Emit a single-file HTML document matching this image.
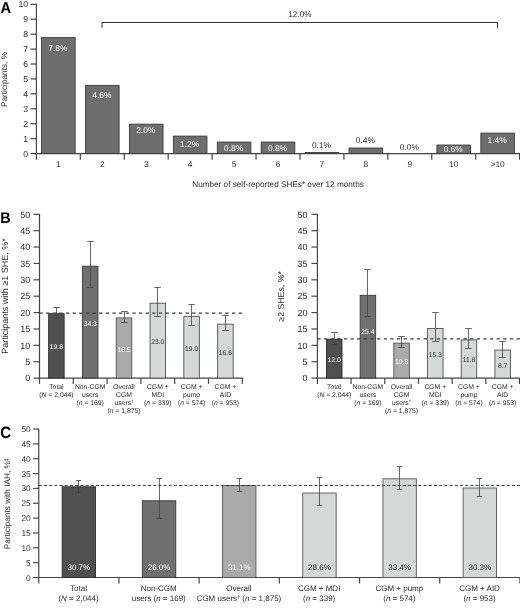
<!DOCTYPE html>
<html><head><meta charset="utf-8"><title>Figure</title>
<style>
html,body{margin:0;padding:0;background:#fff;}
body{width:520px;height:612px;overflow:hidden;}
svg{display:block;font-family:"Liberation Sans",sans-serif;will-change:transform;}
svg text{text-rendering:geometricPrecision;}
</style></head><body>
<svg width="520" height="612" viewBox="0 0 520 612">
<rect width="520" height="612" fill="#fff"/>
<text x="0.6" y="13.0" font-size="15.6" text-anchor="start" fill="#000" font-weight="bold" textLength="10.6" lengthAdjust="spacingAndGlyphs" stroke="#000" stroke-width="0.1">A</text>
<line x1="36.4" y1="3.6999999999999997" x2="36.4" y2="154.15" stroke="#464646" stroke-width="1.2"/>
<line x1="30.5" y1="153.55" x2="36.4" y2="153.55" stroke="#464646" stroke-width="1.2"/>
<text x="28.099999999999998" y="156.65" font-size="8.7" text-anchor="end" fill="#2b2b2b">0</text>
<line x1="30.5" y1="138.63000000000002" x2="36.4" y2="138.63000000000002" stroke="#464646" stroke-width="1.2"/>
<text x="28.099999999999998" y="141.73000000000002" font-size="8.7" text-anchor="end" fill="#2b2b2b">1</text>
<line x1="30.5" y1="123.71000000000001" x2="36.4" y2="123.71000000000001" stroke="#464646" stroke-width="1.2"/>
<text x="28.099999999999998" y="126.81" font-size="8.7" text-anchor="end" fill="#2b2b2b">2</text>
<line x1="30.5" y1="108.79000000000002" x2="36.4" y2="108.79000000000002" stroke="#464646" stroke-width="1.2"/>
<text x="28.099999999999998" y="111.89000000000001" font-size="8.7" text-anchor="end" fill="#2b2b2b">3</text>
<line x1="30.5" y1="93.87" x2="36.4" y2="93.87" stroke="#464646" stroke-width="1.2"/>
<text x="28.099999999999998" y="96.97" font-size="8.7" text-anchor="end" fill="#2b2b2b">4</text>
<line x1="30.5" y1="78.95000000000002" x2="36.4" y2="78.95000000000002" stroke="#464646" stroke-width="1.2"/>
<text x="28.099999999999998" y="82.05000000000001" font-size="8.7" text-anchor="end" fill="#2b2b2b">5</text>
<line x1="30.5" y1="64.03000000000002" x2="36.4" y2="64.03000000000002" stroke="#464646" stroke-width="1.2"/>
<text x="28.099999999999998" y="67.13000000000001" font-size="8.7" text-anchor="end" fill="#2b2b2b">6</text>
<line x1="30.5" y1="49.110000000000014" x2="36.4" y2="49.110000000000014" stroke="#464646" stroke-width="1.2"/>
<text x="28.099999999999998" y="52.210000000000015" font-size="8.7" text-anchor="end" fill="#2b2b2b">7</text>
<line x1="30.5" y1="34.19000000000001" x2="36.4" y2="34.19000000000001" stroke="#464646" stroke-width="1.2"/>
<text x="28.099999999999998" y="37.29000000000001" font-size="8.7" text-anchor="end" fill="#2b2b2b">8</text>
<line x1="30.5" y1="19.27000000000001" x2="36.4" y2="19.27000000000001" stroke="#464646" stroke-width="1.2"/>
<text x="28.099999999999998" y="22.37000000000001" font-size="8.7" text-anchor="end" fill="#2b2b2b">9</text>
<line x1="30.5" y1="4.350000000000023" x2="36.4" y2="4.350000000000023" stroke="#464646" stroke-width="1.2"/>
<text x="28.099999999999998" y="7.450000000000022" font-size="8.7" text-anchor="end" fill="#2b2b2b">10</text>
<text x="6.9" y="79.5" font-size="8.25" text-anchor="middle" fill="#2b2b2b" transform="rotate(-90 6.9 79.5)">Participants, %</text>
<line x1="35.8" y1="153.55" x2="520" y2="153.55" stroke="#464646" stroke-width="1.2"/>
<line x1="36.4" y1="153.55" x2="36.4" y2="159.75" stroke="#464646" stroke-width="1.2"/>
<line x1="80.33" y1="153.55" x2="80.33" y2="159.75" stroke="#464646" stroke-width="1.2"/>
<line x1="124.25999999999999" y1="153.55" x2="124.25999999999999" y2="159.75" stroke="#464646" stroke-width="1.2"/>
<line x1="168.19" y1="153.55" x2="168.19" y2="159.75" stroke="#464646" stroke-width="1.2"/>
<line x1="212.12" y1="153.55" x2="212.12" y2="159.75" stroke="#464646" stroke-width="1.2"/>
<line x1="256.05" y1="153.55" x2="256.05" y2="159.75" stroke="#464646" stroke-width="1.2"/>
<line x1="299.97999999999996" y1="153.55" x2="299.97999999999996" y2="159.75" stroke="#464646" stroke-width="1.2"/>
<line x1="343.90999999999997" y1="153.55" x2="343.90999999999997" y2="159.75" stroke="#464646" stroke-width="1.2"/>
<line x1="387.84" y1="153.55" x2="387.84" y2="159.75" stroke="#464646" stroke-width="1.2"/>
<line x1="431.77" y1="153.55" x2="431.77" y2="159.75" stroke="#464646" stroke-width="1.2"/>
<line x1="475.7" y1="153.55" x2="475.7" y2="159.75" stroke="#464646" stroke-width="1.2"/>
<line x1="519.63" y1="153.55" x2="519.63" y2="159.75" stroke="#464646" stroke-width="1.2"/>
<rect x="41.56" y="37.62" width="33.60" height="115.93" fill="#6e6e6e" stroke="#3a3a3a" stroke-width="0.9"/>
<text x="57.86" y="50.5" font-size="8.4" text-anchor="middle" fill="#fff">7.8%</text>
<text x="58.36" y="167.1" font-size="8.4" text-anchor="middle" fill="#2b2b2b">1</text>
<rect x="85.49" y="85.37" width="33.60" height="68.18" fill="#6e6e6e" stroke="#3a3a3a" stroke-width="0.9"/>
<text x="101.79" y="97.5" font-size="8.4" text-anchor="middle" fill="#fff">4.6%</text>
<text x="102.29" y="167.1" font-size="8.4" text-anchor="middle" fill="#2b2b2b">2</text>
<rect x="129.42" y="124.16" width="33.60" height="29.39" fill="#6e6e6e" stroke="#3a3a3a" stroke-width="0.9"/>
<text x="145.72" y="133.0" font-size="8.4" text-anchor="middle" fill="#fff">2.0%</text>
<text x="146.22" y="167.1" font-size="8.4" text-anchor="middle" fill="#2b2b2b">3</text>
<rect x="173.35" y="136.10" width="33.60" height="17.45" fill="#6e6e6e" stroke="#3a3a3a" stroke-width="0.9"/>
<text x="189.66" y="146.5" font-size="8.4" text-anchor="middle" fill="#fff">1.2%</text>
<text x="190.16" y="167.1" font-size="8.4" text-anchor="middle" fill="#2b2b2b">4</text>
<rect x="217.28" y="142.06" width="33.60" height="11.49" fill="#6e6e6e" stroke="#3a3a3a" stroke-width="0.9"/>
<text x="233.59" y="151.0" font-size="8.4" text-anchor="middle" fill="#fff">0.8%</text>
<text x="234.09" y="167.1" font-size="8.4" text-anchor="middle" fill="#2b2b2b">5</text>
<rect x="261.21" y="142.06" width="33.60" height="11.49" fill="#6e6e6e" stroke="#3a3a3a" stroke-width="0.9"/>
<text x="277.51" y="151.0" font-size="8.4" text-anchor="middle" fill="#fff">0.8%</text>
<text x="278.01" y="167.1" font-size="8.4" text-anchor="middle" fill="#2b2b2b">6</text>
<rect x="305.14" y="152.51" width="33.60" height="1.04" fill="#6e6e6e" stroke="#3a3a3a" stroke-width="0.9"/>
<text x="321.44" y="148.0" font-size="8.4" text-anchor="middle" fill="#2b2b2b">0.1%</text>
<text x="321.94" y="167.1" font-size="8.4" text-anchor="middle" fill="#2b2b2b">7</text>
<rect x="349.07" y="148.03" width="33.60" height="5.52" fill="#6e6e6e" stroke="#3a3a3a" stroke-width="0.9"/>
<text x="365.38" y="143.0" font-size="8.4" text-anchor="middle" fill="#2b2b2b">0.4%</text>
<text x="365.88" y="167.1" font-size="8.4" text-anchor="middle" fill="#2b2b2b">8</text>
<text x="409.30" y="149.5" font-size="8.4" text-anchor="middle" fill="#2b2b2b">0.0%</text>
<text x="409.80" y="167.1" font-size="8.4" text-anchor="middle" fill="#2b2b2b">9</text>
<rect x="436.93" y="145.05" width="33.60" height="8.50" fill="#6e6e6e" stroke="#3a3a3a" stroke-width="0.9"/>
<text x="453.23" y="151.75" font-size="8.4" text-anchor="middle" fill="#fff">0.6%</text>
<text x="453.73" y="167.1" font-size="8.4" text-anchor="middle" fill="#2b2b2b">10</text>
<rect x="480.86" y="133.11" width="33.60" height="20.44" fill="#6e6e6e" stroke="#3a3a3a" stroke-width="0.9"/>
<text x="497.16" y="143.0" font-size="8.4" text-anchor="middle" fill="#fff">1.4%</text>
<text x="497.66" y="167.1" font-size="8.4" text-anchor="middle" fill="#2b2b2b">&gt;10</text>
<text x="278" y="186.6" font-size="8.2" text-anchor="middle" fill="#2b2b2b">Number of self-reported SHEs* over 12 months</text>
<polyline points="102,27.8 102,22.5 497.5,22.5 497.5,27.8" fill="none" stroke="#333" stroke-width="1"/>
<text x="299.9" y="17.0" font-size="8.2" text-anchor="middle" fill="#2b2b2b">12.0%</text>
<text x="0.3" y="222.5" font-size="15.4" text-anchor="start" fill="#000" font-weight="bold" textLength="10.4" lengthAdjust="spacingAndGlyphs">B</text>
<line x1="39.5" y1="213.9" x2="39.5" y2="378.70000000000005" stroke="#464646" stroke-width="1.2"/>
<line x1="33.5" y1="378.1" x2="39.5" y2="378.1" stroke="#464646" stroke-width="1.2"/>
<text x="30.3" y="381.3" font-size="9.0" text-anchor="end" fill="#2b2b2b">0</text>
<line x1="33.5" y1="361.72" x2="39.5" y2="361.72" stroke="#464646" stroke-width="1.2"/>
<text x="30.3" y="364.92" font-size="9.0" text-anchor="end" fill="#2b2b2b">5</text>
<line x1="33.5" y1="345.34000000000003" x2="39.5" y2="345.34000000000003" stroke="#464646" stroke-width="1.2"/>
<text x="30.3" y="348.54" font-size="9.0" text-anchor="end" fill="#2b2b2b">10</text>
<line x1="33.5" y1="328.96000000000004" x2="39.5" y2="328.96000000000004" stroke="#464646" stroke-width="1.2"/>
<text x="30.3" y="332.16" font-size="9.0" text-anchor="end" fill="#2b2b2b">15</text>
<line x1="33.5" y1="312.58000000000004" x2="39.5" y2="312.58000000000004" stroke="#464646" stroke-width="1.2"/>
<text x="30.3" y="315.78000000000003" font-size="9.0" text-anchor="end" fill="#2b2b2b">20</text>
<line x1="33.5" y1="296.20000000000005" x2="39.5" y2="296.20000000000005" stroke="#464646" stroke-width="1.2"/>
<text x="30.3" y="299.40000000000003" font-size="9.0" text-anchor="end" fill="#2b2b2b">25</text>
<line x1="33.5" y1="279.82000000000005" x2="39.5" y2="279.82000000000005" stroke="#464646" stroke-width="1.2"/>
<text x="30.3" y="283.02000000000004" font-size="9.0" text-anchor="end" fill="#2b2b2b">30</text>
<line x1="33.5" y1="263.44000000000005" x2="39.5" y2="263.44000000000005" stroke="#464646" stroke-width="1.2"/>
<text x="30.3" y="266.64000000000004" font-size="9.0" text-anchor="end" fill="#2b2b2b">35</text>
<line x1="33.5" y1="247.06000000000003" x2="39.5" y2="247.06000000000003" stroke="#464646" stroke-width="1.2"/>
<text x="30.3" y="250.26000000000002" font-size="9.0" text-anchor="end" fill="#2b2b2b">40</text>
<line x1="33.5" y1="230.68000000000004" x2="39.5" y2="230.68000000000004" stroke="#464646" stroke-width="1.2"/>
<text x="30.3" y="233.88000000000002" font-size="9.0" text-anchor="end" fill="#2b2b2b">45</text>
<line x1="33.5" y1="214.30000000000004" x2="39.5" y2="214.30000000000004" stroke="#464646" stroke-width="1.2"/>
<text x="30.3" y="217.50000000000003" font-size="9.0" text-anchor="end" fill="#2b2b2b">50</text>
<text x="7.5" y="296.0" font-size="9.0" text-anchor="middle" fill="#2b2b2b" transform="rotate(-90 7.5 296.0)">Participants with ≥1 SHE, %*</text>
<line x1="38.9" y1="378.1" x2="242.89999999999998" y2="378.1" stroke="#464646" stroke-width="1.2"/>
<line x1="39.5" y1="378.1" x2="39.5" y2="383.90000000000003" stroke="#464646" stroke-width="1.2"/>
<line x1="73.3" y1="378.1" x2="73.3" y2="383.90000000000003" stroke="#464646" stroke-width="1.2"/>
<line x1="107.1" y1="378.1" x2="107.1" y2="383.90000000000003" stroke="#464646" stroke-width="1.2"/>
<line x1="140.89999999999998" y1="378.1" x2="140.89999999999998" y2="383.90000000000003" stroke="#464646" stroke-width="1.2"/>
<line x1="174.7" y1="378.1" x2="174.7" y2="383.90000000000003" stroke="#464646" stroke-width="1.2"/>
<line x1="208.5" y1="378.1" x2="208.5" y2="383.90000000000003" stroke="#464646" stroke-width="1.2"/>
<line x1="242.29999999999998" y1="378.1" x2="242.29999999999998" y2="383.90000000000003" stroke="#464646" stroke-width="1.2"/>
<rect x="48.65" y="313.69" width="15.50" height="64.41" fill="#505050" stroke="#2e2e2e" stroke-width="0.9"/>
<line x1="56.5" y1="307.5" x2="56.5" y2="318.5" stroke="#444" stroke-width="0.8"/>
<line x1="53.2" y1="307.5" x2="59.8" y2="307.5" stroke="#444" stroke-width="0.8"/>
<line x1="53.2" y1="318.5" x2="59.8" y2="318.5" stroke="#444" stroke-width="0.8"/>
<text x="56.40" y="348.8" font-size="6.75" text-anchor="middle" fill="#fff">19.8</text>
<text x="56.40" y="388.9" font-size="6.8" text-anchor="middle" fill="#2b2b2b">Total</text>
<text x="56.40" y="396.9" font-size="6.8" text-anchor="middle" fill="#2b2b2b">(<tspan font-style="italic">N</tspan> = 2,044)</text>
<rect x="82.45" y="266.18" width="15.50" height="111.92" fill="#6f6f6f" stroke="#3a3a3a" stroke-width="0.9"/>
<line x1="90.5" y1="241.5" x2="90.5" y2="287.5" stroke="#444" stroke-width="0.8"/>
<line x1="87.2" y1="241.5" x2="93.8" y2="241.5" stroke="#444" stroke-width="0.8"/>
<line x1="87.2" y1="287.5" x2="93.8" y2="287.5" stroke="#444" stroke-width="0.8"/>
<text x="90.20" y="326.05" font-size="6.75" text-anchor="middle" fill="#fff">34.3</text>
<text x="90.20" y="388.9" font-size="6.8" text-anchor="middle" fill="#2b2b2b">Non-CGM</text>
<text x="90.20" y="396.9" font-size="6.8" text-anchor="middle" fill="#2b2b2b">users</text>
<text x="90.20" y="404.9" font-size="6.8" text-anchor="middle" fill="#2b2b2b">(<tspan font-style="italic">n</tspan> = 169)</text>
<rect x="116.25" y="317.94" width="15.50" height="60.16" fill="#aaaaaa" stroke="#505050" stroke-width="0.9"/>
<line x1="124.5" y1="311.5" x2="124.5" y2="322.5" stroke="#444" stroke-width="0.8"/>
<line x1="121.2" y1="311.5" x2="127.8" y2="311.5" stroke="#444" stroke-width="0.8"/>
<line x1="121.2" y1="322.5" x2="127.8" y2="322.5" stroke="#444" stroke-width="0.8"/>
<text x="124.00" y="351.55" font-size="6.75" text-anchor="middle" fill="#fff">18.5</text>
<text x="124.00" y="388.9" font-size="6.8" text-anchor="middle" fill="#2b2b2b">Overall</text>
<text x="124.00" y="396.9" font-size="6.8" text-anchor="middle" fill="#2b2b2b">CGM</text>
<text x="124.00" y="404.9" font-size="6.8" text-anchor="middle" fill="#2b2b2b">users<tspan font-size="4.5" dy="-2">†</tspan></text>
<text x="124.00" y="412.9" font-size="6.8" text-anchor="middle" fill="#2b2b2b">(<tspan font-style="italic">n</tspan> = 1,875)</text>
<rect x="150.05" y="303.20" width="15.50" height="74.90" fill="#d6d8d7" stroke="#505050" stroke-width="0.9"/>
<line x1="157.5" y1="287.5" x2="157.5" y2="316.5" stroke="#444" stroke-width="0.8"/>
<line x1="154.2" y1="287.5" x2="160.8" y2="287.5" stroke="#444" stroke-width="0.8"/>
<line x1="154.2" y1="316.5" x2="160.8" y2="316.5" stroke="#444" stroke-width="0.8"/>
<text x="157.80" y="344.05" font-size="6.75" text-anchor="middle" fill="#2b2b2b">23.0</text>
<text x="157.80" y="388.9" font-size="6.8" text-anchor="middle" fill="#2b2b2b">CGM +</text>
<text x="157.80" y="396.9" font-size="6.8" text-anchor="middle" fill="#2b2b2b">MDI</text>
<text x="157.80" y="404.9" font-size="6.8" text-anchor="middle" fill="#2b2b2b">(<tspan font-style="italic">n</tspan> = 339)</text>
<rect x="183.85" y="316.31" width="15.50" height="61.79" fill="#d6d8d7" stroke="#505050" stroke-width="0.9"/>
<line x1="191.5" y1="304.5" x2="191.5" y2="325.5" stroke="#444" stroke-width="0.8"/>
<line x1="188.2" y1="304.5" x2="194.8" y2="304.5" stroke="#444" stroke-width="0.8"/>
<line x1="188.2" y1="325.5" x2="194.8" y2="325.5" stroke="#444" stroke-width="0.8"/>
<text x="191.60" y="350.8" font-size="6.75" text-anchor="middle" fill="#2b2b2b">19.0</text>
<text x="191.60" y="388.9" font-size="6.8" text-anchor="middle" fill="#2b2b2b">CGM +</text>
<text x="191.60" y="396.9" font-size="6.8" text-anchor="middle" fill="#2b2b2b">pump</text>
<text x="191.60" y="404.9" font-size="6.8" text-anchor="middle" fill="#2b2b2b">(<tspan font-style="italic">n</tspan> = 574)</text>
<rect x="217.65" y="324.17" width="15.50" height="53.93" fill="#d6d8d7" stroke="#505050" stroke-width="0.9"/>
<line x1="225.5" y1="315.5" x2="225.5" y2="330.5" stroke="#444" stroke-width="0.8"/>
<line x1="222.2" y1="315.5" x2="228.8" y2="315.5" stroke="#444" stroke-width="0.8"/>
<line x1="222.2" y1="330.5" x2="228.8" y2="330.5" stroke="#444" stroke-width="0.8"/>
<text x="225.40" y="354.55" font-size="6.75" text-anchor="middle" fill="#2b2b2b">16.6</text>
<text x="225.40" y="388.9" font-size="6.8" text-anchor="middle" fill="#2b2b2b">CGM +</text>
<text x="225.40" y="396.9" font-size="6.8" text-anchor="middle" fill="#2b2b2b">AID</text>
<text x="225.40" y="404.9" font-size="6.8" text-anchor="middle" fill="#2b2b2b">(<tspan font-style="italic">n</tspan> = 953)</text>
<line x1="39.4" y1="313.07140000000004" x2="242" y2="313.07140000000004" stroke="#3a3a3a" stroke-width="1.2" stroke-dasharray="3.3 3.34"/>
<line x1="317.4" y1="213.9" x2="317.4" y2="378.70000000000005" stroke="#464646" stroke-width="1.2"/>
<line x1="311.4" y1="378.1" x2="317.4" y2="378.1" stroke="#464646" stroke-width="1.2"/>
<text x="307.59999999999997" y="381.3" font-size="9.0" text-anchor="end" fill="#2b2b2b">0</text>
<line x1="311.4" y1="361.72" x2="317.4" y2="361.72" stroke="#464646" stroke-width="1.2"/>
<text x="307.59999999999997" y="364.92" font-size="9.0" text-anchor="end" fill="#2b2b2b">5</text>
<line x1="311.4" y1="345.34000000000003" x2="317.4" y2="345.34000000000003" stroke="#464646" stroke-width="1.2"/>
<text x="307.59999999999997" y="348.54" font-size="9.0" text-anchor="end" fill="#2b2b2b">10</text>
<line x1="311.4" y1="328.96000000000004" x2="317.4" y2="328.96000000000004" stroke="#464646" stroke-width="1.2"/>
<text x="307.59999999999997" y="332.16" font-size="9.0" text-anchor="end" fill="#2b2b2b">15</text>
<line x1="311.4" y1="312.58000000000004" x2="317.4" y2="312.58000000000004" stroke="#464646" stroke-width="1.2"/>
<text x="307.59999999999997" y="315.78000000000003" font-size="9.0" text-anchor="end" fill="#2b2b2b">20</text>
<line x1="311.4" y1="296.20000000000005" x2="317.4" y2="296.20000000000005" stroke="#464646" stroke-width="1.2"/>
<text x="307.59999999999997" y="299.40000000000003" font-size="9.0" text-anchor="end" fill="#2b2b2b">25</text>
<line x1="311.4" y1="279.82000000000005" x2="317.4" y2="279.82000000000005" stroke="#464646" stroke-width="1.2"/>
<text x="307.59999999999997" y="283.02000000000004" font-size="9.0" text-anchor="end" fill="#2b2b2b">30</text>
<line x1="311.4" y1="263.44000000000005" x2="317.4" y2="263.44000000000005" stroke="#464646" stroke-width="1.2"/>
<text x="307.59999999999997" y="266.64000000000004" font-size="9.0" text-anchor="end" fill="#2b2b2b">35</text>
<line x1="311.4" y1="247.06000000000003" x2="317.4" y2="247.06000000000003" stroke="#464646" stroke-width="1.2"/>
<text x="307.59999999999997" y="250.26000000000002" font-size="9.0" text-anchor="end" fill="#2b2b2b">40</text>
<line x1="311.4" y1="230.68000000000004" x2="317.4" y2="230.68000000000004" stroke="#464646" stroke-width="1.2"/>
<text x="307.59999999999997" y="233.88000000000002" font-size="9.0" text-anchor="end" fill="#2b2b2b">45</text>
<line x1="311.4" y1="214.30000000000004" x2="317.4" y2="214.30000000000004" stroke="#464646" stroke-width="1.2"/>
<text x="307.59999999999997" y="217.50000000000003" font-size="9.0" text-anchor="end" fill="#2b2b2b">50</text>
<text x="283.6" y="296.4" font-size="8.75" text-anchor="middle" fill="#2b2b2b" transform="rotate(-90 283.6 296.4)">≥2 SHEs, %*</text>
<line x1="316.79999999999995" y1="378.1" x2="520.08" y2="378.1" stroke="#464646" stroke-width="1.2"/>
<line x1="317.4" y1="378.1" x2="317.4" y2="383.90000000000003" stroke="#464646" stroke-width="1.2"/>
<line x1="351.08" y1="378.1" x2="351.08" y2="383.90000000000003" stroke="#464646" stroke-width="1.2"/>
<line x1="384.76" y1="378.1" x2="384.76" y2="383.90000000000003" stroke="#464646" stroke-width="1.2"/>
<line x1="418.43999999999994" y1="378.1" x2="418.43999999999994" y2="383.90000000000003" stroke="#464646" stroke-width="1.2"/>
<line x1="452.12" y1="378.1" x2="452.12" y2="383.90000000000003" stroke="#464646" stroke-width="1.2"/>
<line x1="485.79999999999995" y1="378.1" x2="485.79999999999995" y2="383.90000000000003" stroke="#464646" stroke-width="1.2"/>
<line x1="519.48" y1="378.1" x2="519.48" y2="383.90000000000003" stroke="#464646" stroke-width="1.2"/>
<rect x="326.49" y="339.24" width="15.50" height="38.86" fill="#505050" stroke="#2e2e2e" stroke-width="0.9"/>
<line x1="334.5" y1="332.5" x2="334.5" y2="344.5" stroke="#444" stroke-width="0.8"/>
<line x1="331.2" y1="332.5" x2="337.8" y2="332.5" stroke="#444" stroke-width="0.8"/>
<line x1="331.2" y1="344.5" x2="337.8" y2="344.5" stroke="#444" stroke-width="0.8"/>
<text x="334.24" y="362.3" font-size="6.75" text-anchor="middle" fill="#fff">12.0</text>
<text x="334.24" y="388.9" font-size="6.8" text-anchor="middle" fill="#2b2b2b">Total</text>
<text x="334.24" y="396.9" font-size="6.8" text-anchor="middle" fill="#2b2b2b">(<tspan font-style="italic">N</tspan> = 2,044)</text>
<rect x="360.17" y="295.34" width="15.50" height="82.76" fill="#6f6f6f" stroke="#3a3a3a" stroke-width="0.9"/>
<line x1="367.5" y1="269.5" x2="367.5" y2="316.5" stroke="#444" stroke-width="0.8"/>
<line x1="364.2" y1="269.5" x2="370.8" y2="269.5" stroke="#444" stroke-width="0.8"/>
<line x1="364.2" y1="316.5" x2="370.8" y2="316.5" stroke="#444" stroke-width="0.8"/>
<text x="367.92" y="334.05" font-size="6.75" text-anchor="middle" fill="#fff">25.4</text>
<text x="367.92" y="388.9" font-size="6.8" text-anchor="middle" fill="#2b2b2b">Non-CGM</text>
<text x="367.92" y="396.9" font-size="6.8" text-anchor="middle" fill="#2b2b2b">users</text>
<text x="367.92" y="404.9" font-size="6.8" text-anchor="middle" fill="#2b2b2b">(<tspan font-style="italic">n</tspan> = 169)</text>
<rect x="393.85" y="343.17" width="15.50" height="34.93" fill="#aaaaaa" stroke="#505050" stroke-width="0.9"/>
<line x1="401.5" y1="336.5" x2="401.5" y2="347.5" stroke="#444" stroke-width="0.8"/>
<line x1="398.2" y1="336.5" x2="404.8" y2="336.5" stroke="#444" stroke-width="0.8"/>
<line x1="398.2" y1="347.5" x2="404.8" y2="347.5" stroke="#444" stroke-width="0.8"/>
<text x="401.60" y="363.55" font-size="6.75" text-anchor="middle" fill="#fff">10.8</text>
<text x="401.60" y="388.9" font-size="6.8" text-anchor="middle" fill="#2b2b2b">Overall</text>
<text x="401.60" y="396.9" font-size="6.8" text-anchor="middle" fill="#2b2b2b">CGM</text>
<text x="401.60" y="404.9" font-size="6.8" text-anchor="middle" fill="#2b2b2b">users<tspan font-size="4.5" dy="-2">†</tspan></text>
<text x="401.60" y="412.9" font-size="6.8" text-anchor="middle" fill="#2b2b2b">(<tspan font-style="italic">n</tspan> = 1,875)</text>
<rect x="427.53" y="328.43" width="15.50" height="49.67" fill="#d6d8d7" stroke="#505050" stroke-width="0.9"/>
<line x1="435.5" y1="312.5" x2="435.5" y2="341.5" stroke="#444" stroke-width="0.8"/>
<line x1="432.2" y1="312.5" x2="438.8" y2="312.5" stroke="#444" stroke-width="0.8"/>
<line x1="432.2" y1="341.5" x2="438.8" y2="341.5" stroke="#444" stroke-width="0.8"/>
<text x="435.28" y="356.55" font-size="6.75" text-anchor="middle" fill="#2b2b2b">15.3</text>
<text x="435.28" y="388.9" font-size="6.8" text-anchor="middle" fill="#2b2b2b">CGM +</text>
<text x="435.28" y="396.9" font-size="6.8" text-anchor="middle" fill="#2b2b2b">MDI</text>
<text x="435.28" y="404.9" font-size="6.8" text-anchor="middle" fill="#2b2b2b">(<tspan font-style="italic">n</tspan> = 339)</text>
<rect x="461.21" y="339.89" width="15.50" height="38.21" fill="#d6d8d7" stroke="#505050" stroke-width="0.9"/>
<line x1="468.5" y1="328.5" x2="468.5" y2="348.5" stroke="#444" stroke-width="0.8"/>
<line x1="465.2" y1="328.5" x2="471.8" y2="328.5" stroke="#444" stroke-width="0.8"/>
<line x1="465.2" y1="348.5" x2="471.8" y2="348.5" stroke="#444" stroke-width="0.8"/>
<text x="468.96" y="362.3" font-size="6.75" text-anchor="middle" fill="#2b2b2b">11.8</text>
<text x="468.96" y="388.9" font-size="6.8" text-anchor="middle" fill="#2b2b2b">CGM +</text>
<text x="468.96" y="396.9" font-size="6.8" text-anchor="middle" fill="#2b2b2b">pump</text>
<text x="468.96" y="404.9" font-size="6.8" text-anchor="middle" fill="#2b2b2b">(<tspan font-style="italic">n</tspan> = 574)</text>
<rect x="494.89" y="350.05" width="15.50" height="28.05" fill="#d6d8d7" stroke="#505050" stroke-width="0.9"/>
<line x1="502.5" y1="341.5" x2="502.5" y2="357.5" stroke="#444" stroke-width="0.8"/>
<line x1="499.2" y1="341.5" x2="505.8" y2="341.5" stroke="#444" stroke-width="0.8"/>
<line x1="499.2" y1="357.5" x2="505.8" y2="357.5" stroke="#444" stroke-width="0.8"/>
<text x="502.64" y="367.55" font-size="6.75" text-anchor="middle" fill="#2b2b2b">8.7</text>
<text x="502.64" y="388.9" font-size="6.8" text-anchor="middle" fill="#2b2b2b">CGM +</text>
<text x="502.64" y="396.9" font-size="6.8" text-anchor="middle" fill="#2b2b2b">AID</text>
<text x="502.64" y="404.9" font-size="6.8" text-anchor="middle" fill="#2b2b2b">(<tspan font-style="italic">n</tspan> = 953)</text>
<line x1="317.29999999999995" y1="338.788" x2="520" y2="338.788" stroke="#3a3a3a" stroke-width="1.2" stroke-dasharray="3.3 3.34"/>
<text x="0.2" y="438.0" font-size="16.4" text-anchor="start" fill="#000" font-weight="bold" textLength="10.9" lengthAdjust="spacingAndGlyphs">C</text>
<line x1="38.75" y1="428.65" x2="38.75" y2="578.1" stroke="#464646" stroke-width="1.2"/>
<line x1="33.15" y1="577.5" x2="38.75" y2="577.5" stroke="#464646" stroke-width="1.2"/>
<text x="30.65" y="580.5" font-size="8.3" text-anchor="end" fill="#2b2b2b">0</text>
<line x1="33.15" y1="562.655" x2="38.75" y2="562.655" stroke="#464646" stroke-width="1.2"/>
<text x="30.65" y="565.655" font-size="8.3" text-anchor="end" fill="#2b2b2b">5</text>
<line x1="33.15" y1="547.81" x2="38.75" y2="547.81" stroke="#464646" stroke-width="1.2"/>
<text x="30.65" y="550.81" font-size="8.3" text-anchor="end" fill="#2b2b2b">10</text>
<line x1="33.15" y1="532.965" x2="38.75" y2="532.965" stroke="#464646" stroke-width="1.2"/>
<text x="30.65" y="535.965" font-size="8.3" text-anchor="end" fill="#2b2b2b">15</text>
<line x1="33.15" y1="518.12" x2="38.75" y2="518.12" stroke="#464646" stroke-width="1.2"/>
<text x="30.65" y="521.12" font-size="8.3" text-anchor="end" fill="#2b2b2b">20</text>
<line x1="33.15" y1="503.275" x2="38.75" y2="503.275" stroke="#464646" stroke-width="1.2"/>
<text x="30.65" y="506.275" font-size="8.3" text-anchor="end" fill="#2b2b2b">25</text>
<line x1="33.15" y1="488.43" x2="38.75" y2="488.43" stroke="#464646" stroke-width="1.2"/>
<text x="30.65" y="491.43" font-size="8.3" text-anchor="end" fill="#2b2b2b">30</text>
<line x1="33.15" y1="473.58500000000004" x2="38.75" y2="473.58500000000004" stroke="#464646" stroke-width="1.2"/>
<text x="30.65" y="476.58500000000004" font-size="8.3" text-anchor="end" fill="#2b2b2b">35</text>
<line x1="33.15" y1="458.74" x2="38.75" y2="458.74" stroke="#464646" stroke-width="1.2"/>
<text x="30.65" y="461.74" font-size="8.3" text-anchor="end" fill="#2b2b2b">40</text>
<line x1="33.15" y1="443.895" x2="38.75" y2="443.895" stroke="#464646" stroke-width="1.2"/>
<text x="30.65" y="446.895" font-size="8.3" text-anchor="end" fill="#2b2b2b">45</text>
<line x1="33.15" y1="429.05" x2="38.75" y2="429.05" stroke="#464646" stroke-width="1.2"/>
<text x="30.65" y="432.05" font-size="8.3" text-anchor="end" fill="#2b2b2b">50</text>
<text x="10.2" y="503.6" font-size="8.25" text-anchor="middle" fill="#2b2b2b" transform="rotate(-90 10.2 503.6)">Participants with IAH, %<tspan font-size="5.5" dy="-2.5">‡</tspan></text>
<line x1="38.15" y1="577.5" x2="520" y2="577.5" stroke="#464646" stroke-width="1.2"/>
<line x1="38.75" y1="577.5" x2="38.75" y2="583.5" stroke="#464646" stroke-width="1.2"/>
<line x1="118.95" y1="577.5" x2="118.95" y2="583.5" stroke="#464646" stroke-width="1.2"/>
<line x1="199.15" y1="577.5" x2="199.15" y2="583.5" stroke="#464646" stroke-width="1.2"/>
<line x1="279.35" y1="577.5" x2="279.35" y2="583.5" stroke="#464646" stroke-width="1.2"/>
<line x1="359.55" y1="577.5" x2="359.55" y2="583.5" stroke="#464646" stroke-width="1.2"/>
<line x1="439.75" y1="577.5" x2="439.75" y2="583.5" stroke="#464646" stroke-width="1.2"/>
<line x1="519.95" y1="577.5" x2="519.95" y2="583.5" stroke="#464646" stroke-width="1.2"/>
<rect x="62.15" y="486.80" width="33.40" height="90.70" fill="#505050" stroke="#2e2e2e" stroke-width="0.9"/>
<line x1="78.5" y1="480.5" x2="78.5" y2="492.5" stroke="#444" stroke-width="0.8"/>
<line x1="75.8" y1="480.5" x2="81.2" y2="480.5" stroke="#444" stroke-width="0.8"/>
<line x1="75.8" y1="492.5" x2="81.2" y2="492.5" stroke="#444" stroke-width="0.8"/>
<text x="78.85" y="570.4" font-size="8" text-anchor="middle" fill="#fff">30.7%</text>
<text x="78.55" y="591.1" font-size="8" text-anchor="middle" fill="#2b2b2b">Total</text>
<text x="78.55" y="601.3000000000001" font-size="8" text-anchor="middle" fill="#2b2b2b">(<tspan font-style="italic">N</tspan> = 2,044)</text>
<rect x="142.35" y="500.76" width="33.40" height="76.74" fill="#6f6f6f" stroke="#3a3a3a" stroke-width="0.9"/>
<line x1="159.5" y1="478.5" x2="159.5" y2="518.5" stroke="#444" stroke-width="0.8"/>
<line x1="156.8" y1="478.5" x2="162.2" y2="478.5" stroke="#444" stroke-width="0.8"/>
<line x1="156.8" y1="518.5" x2="162.2" y2="518.5" stroke="#444" stroke-width="0.8"/>
<text x="159.05" y="570.4" font-size="8" text-anchor="middle" fill="#fff">26.0%</text>
<text x="158.75" y="591.1" font-size="8" text-anchor="middle" fill="#2b2b2b">Non-CGM</text>
<text x="158.75" y="601.3000000000001" font-size="8" text-anchor="middle" fill="#2b2b2b">users (<tspan font-style="italic">n</tspan> = 169)</text>
<rect x="222.55" y="485.61" width="33.40" height="91.89" fill="#aaaaaa" stroke="#555" stroke-width="0.9"/>
<line x1="239.5" y1="478.5" x2="239.5" y2="491.5" stroke="#444" stroke-width="0.8"/>
<line x1="236.8" y1="478.5" x2="242.2" y2="478.5" stroke="#444" stroke-width="0.8"/>
<line x1="236.8" y1="491.5" x2="242.2" y2="491.5" stroke="#444" stroke-width="0.8"/>
<text x="239.25" y="570.4" font-size="8" text-anchor="middle" fill="#fff">31.1%</text>
<text x="238.95" y="591.1" font-size="8" text-anchor="middle" fill="#2b2b2b">Overall</text>
<text x="238.95" y="601.3000000000001" font-size="8" text-anchor="middle" fill="#2b2b2b">CGM users<tspan font-size="5.5" dy="-2.5">†</tspan><tspan dy="2.5"> (</tspan><tspan font-style="italic">n</tspan> = 1,875)</text>
<rect x="302.75" y="493.04" width="33.40" height="84.46" fill="#d6d8d7" stroke="#555" stroke-width="0.9"/>
<line x1="319.5" y1="477.5" x2="319.5" y2="505.5" stroke="#444" stroke-width="0.8"/>
<line x1="316.8" y1="477.5" x2="322.2" y2="477.5" stroke="#444" stroke-width="0.8"/>
<line x1="316.8" y1="505.5" x2="322.2" y2="505.5" stroke="#444" stroke-width="0.8"/>
<text x="319.45" y="570.4" font-size="8" text-anchor="middle" fill="#2b2b2b">28.6%</text>
<text x="319.15" y="591.1" font-size="8" text-anchor="middle" fill="#2b2b2b">CGM + MDI</text>
<text x="319.15" y="601.3000000000001" font-size="8" text-anchor="middle" fill="#2b2b2b">(<tspan font-style="italic">n</tspan> = 339)</text>
<rect x="382.95" y="478.79" width="33.40" height="98.71" fill="#d6d8d7" stroke="#555" stroke-width="0.9"/>
<line x1="399.5" y1="466.5" x2="399.5" y2="489.5" stroke="#444" stroke-width="0.8"/>
<line x1="396.8" y1="466.5" x2="402.2" y2="466.5" stroke="#444" stroke-width="0.8"/>
<line x1="396.8" y1="489.5" x2="402.2" y2="489.5" stroke="#444" stroke-width="0.8"/>
<text x="399.65" y="570.4" font-size="8" text-anchor="middle" fill="#2b2b2b">33.4%</text>
<text x="399.35" y="591.1" font-size="8" text-anchor="middle" fill="#2b2b2b">CGM + pump</text>
<text x="399.35" y="601.3000000000001" font-size="8" text-anchor="middle" fill="#2b2b2b">(<tspan font-style="italic">n</tspan> = 574)</text>
<rect x="463.15" y="487.99" width="33.40" height="89.51" fill="#d6d8d7" stroke="#555" stroke-width="0.9"/>
<line x1="479.5" y1="478.5" x2="479.5" y2="496.5" stroke="#444" stroke-width="0.8"/>
<line x1="476.8" y1="478.5" x2="482.2" y2="478.5" stroke="#444" stroke-width="0.8"/>
<line x1="476.8" y1="496.5" x2="482.2" y2="496.5" stroke="#444" stroke-width="0.8"/>
<text x="479.85" y="570.4" font-size="8" text-anchor="middle" fill="#2b2b2b">30.3%</text>
<text x="479.55" y="591.1" font-size="8" text-anchor="middle" fill="#2b2b2b">CGM + AID</text>
<text x="479.55" y="601.3000000000001" font-size="8" text-anchor="middle" fill="#2b2b2b">(<tspan font-style="italic">n</tspan> = 953)</text>
<line x1="38.75" y1="485.461" x2="520" y2="485.461" stroke="#333" stroke-width="0.95" stroke-dasharray="3.1 2.1"/>
</svg>
</body></html>
